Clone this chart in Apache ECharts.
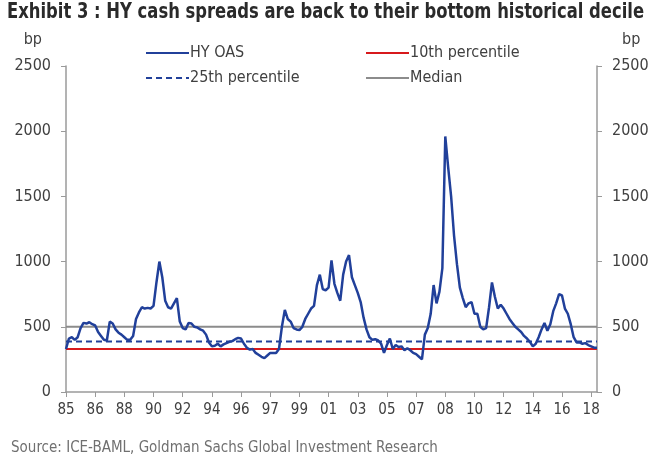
<!DOCTYPE html>
<html>
<head>
<meta charset="utf-8">
<script src="https://cdn.jsdelivr.net/npm/echarts@6/dist/echarts.min.js"></script>
<style>
  html, body { margin: 0; padding: 0; background: #fff; }
  #chart { width: 661px; height: 463px; }
</style>
</head>
<body>
<div id="chart"></div>
<script>
// tick labels, one every 10 points
const tickLabels = ['85', '86', '88', '90', '92', '94', '96', '97', '99', '01',
  '03', '05', '07', '08', '10', '12', '14', '16', '18']

// HY OAS in bp (10 points per tick interval)
const hyOas = [
  330, 410, 420, 400, 420, 490, 530, 525, 535, 520,
  510, 460, 430, 400, 395, 540, 525, 480, 455, 440,
  420, 400, 400, 430, 560, 610, 650, 640, 645, 640,
  660, 840, 1000, 880, 700, 650, 640, 680, 720, 540,
  490, 480, 530, 525, 500, 495, 480, 470, 440, 380,
  350, 355, 370, 350, 365, 375, 385, 390, 405, 415,
  410, 370, 340, 325, 330, 300, 285, 270, 260, 280,
  300, 300, 300, 330, 500, 630, 560, 540, 490, 480,
  475, 500, 560, 600, 640, 660, 820, 900, 790, 780,
  800, 1010, 830, 760, 700, 900, 1000, 1050, 880, 820,
  760, 690, 570, 480, 420, 400, 405, 395, 370, 300,
  360, 410, 330, 360, 345, 350, 320, 335, 320, 300,
  290, 270, 250, 440, 490, 600, 820, 680, 770, 950,
  1960, 1720, 1500, 1200, 980, 800, 720, 650, 680, 690,
  600, 600, 500, 480, 490, 650, 840, 730, 640, 670,
  640, 600, 560, 530, 500, 480, 460, 430, 410, 385,
  350, 370, 420, 480, 530, 470, 520, 620, 680, 750,
  740, 640, 600, 520, 420, 380, 380, 370, 375, 360,
  350, 340, 340
]

// reference levels in bp
const pct10 = 330
const pct25 = 388
const median = 500

const yTicks = { min: 0, max: 2500, interval: 500 }

const titleText = 'Exhibit 3 : HY cash spreads are back to their bottom historical decile'
const sourceText = 'Source: ICE-BAML, Goldman Sachs Global Investment Research'

const chart = echarts.init(document.getElementById('chart'))
const cats = hyOas.map((v, i) => 'p' + i)
const flat = (v) => hyOas.map(() => v)

const font = "'DejaVu Sans Condensed', 'Liberation Sans Narrow', sans-serif"
const axisCol = '#9a9a9a'
const textCol = '#404040'

// squeeze the title to the width it has in the original
const titleFont = 'bold 21px ' + font
const ctx = document.createElement('canvas').getContext('2d')
ctx.font = titleFont
const titleScale = 637 / ctx.measureText(titleText).width

const yAxisBase = {
  type: 'value',
  min: yTicks.min,
  max: yTicks.max,
  interval: yTicks.interval,
  name: 'bp',
  nameGap: 18,
  splitLine: { show: false },
  axisLine: { show: true, lineStyle: { color: axisCol, width: 1.5 } },
  axisTick: { show: true, length: 5, lineStyle: { color: axisCol } },
  axisLabel: { color: textCol, fontSize: 16, fontFamily: font, margin: 15, formatter: (v) => String(v) }
}

const legendBase = {
  orient: 'vertical', top: 45, itemGap: 9, padding: 0,
  itemWidth: 43, itemHeight: 16,
  itemStyle: { opacity: 0 },
  textStyle: { fontFamily: font, fontSize: 16, color: textCol, padding: [0, 0, 0, -4] }
}

chart.setOption({
  animation: false,
  backgroundColor: '#fff',
  graphic: [{
    type: 'text', left: 7, top: 2, scaleX: titleScale,
    style: { text: titleText, font: titleFont, fill: '#2a2a2a' }
  }],
  title: [{
    text: sourceText,
    left: 6, top: 436,
    textStyle: { fontFamily: font, fontSize: 15, fontWeight: 'normal', color: '#707070' }
  }],
  legend: [
    Object.assign({}, legendBase, { data: ['HY OAS', '25th percentile'], left: 145 }),
    Object.assign({}, legendBase, { data: ['10th percentile', 'Median'], left: 365 })
  ],
  grid: { left: 66, right: 64, top: 66, bottom: 71 },
  xAxis: {
    type: 'category',
    data: cats,
    boundaryGap: false,
    axisLine: { lineStyle: { color: axisCol, width: 1.5 } },
    axisTick: { interval: 9, length: 5, lineStyle: { color: axisCol } },
    axisLabel: {
      interval: 9, color: textCol, fontSize: 15, fontFamily: font, margin: 11,
      formatter: (v, idx) => (idx % 10 === 0 ? (tickLabels[idx / 10] || '') : '')
    }
  },
  yAxis: [
    Object.assign({}, yAxisBase, {
      position: 'left',
      nameTextStyle: { color: textCol, fontSize: 16, fontFamily: font, align: 'right', padding: [0, 24, 0, 0] }
    }),
    Object.assign({}, yAxisBase, {
      position: 'right',
      nameTextStyle: { color: textCol, fontSize: 16, fontFamily: font, align: 'left', padding: [0, 0, 0, 25] }
    })
  ],
  series: [{
    name: 'HY OAS', type: 'line', data: hyOas, symbol: 'none', z: 5,
    lineStyle: { color: '#21409a', width: 2.5 }, itemStyle: { color: '#21409a' }
  }, {
    name: '10th percentile', type: 'line', data: flat(pct10), symbol: 'none', z: 3,
    lineStyle: { color: '#d7191c', width: 2 }, itemStyle: { color: '#d7191c' }
  }, {
    name: '25th percentile', type: 'line', data: flat(pct25), symbol: 'none', z: 3,
    lineStyle: { color: '#21409a', width: 2, type: [6, 4] }, itemStyle: { color: '#21409a' }
  }, {
    name: 'Median', type: 'line', data: flat(median), symbol: 'none', z: 3,
    lineStyle: { color: '#8c8c8c', width: 2 }, itemStyle: { color: '#8c8c8c' }
  }]
})
</script>
</body>
</html>
